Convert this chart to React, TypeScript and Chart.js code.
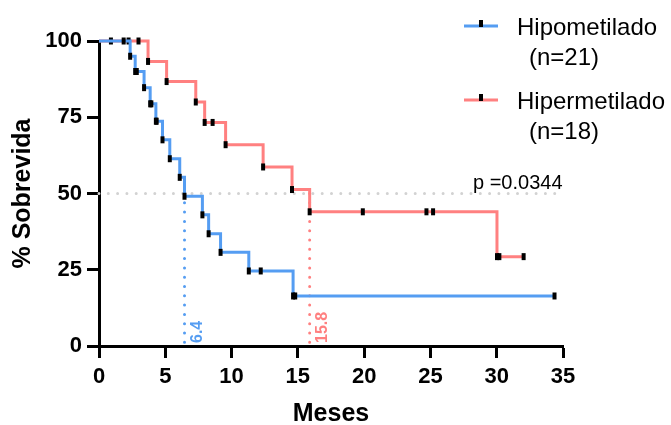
import React, { useEffect, useRef } from 'react';
import { Chart, registerables } from 'chart.js';

Chart.register(...registerables);

// ---------- data ----------
const hipoTimes = [0, 1.86, 2.35, 2.73, 2.85, 3.4, 3.86, 3.95, 4.29, 4.35, 4.79, 5.34, 6.09, 6.45, 7.8, 8.27, 9.17, 11.3, 12.2, 14.64, 14.8, 34.36];
const hipoSurv = [100, 100, 95, 90, 90, 84.7, 79.4, 79.4, 73.7, 73.7, 67.6, 61.4, 55.3, 49.1, 43.0, 36.8, 30.7, 24.6, 24.6, 16.4, 16.4, 16.4];

const hiperTimes = [0, 0.9, 2.23, 2.98, 3.7, 5.1, 7.3, 7.97, 8.57, 9.55, 12.38, 14.56, 15.89, 19.9, 24.7, 25.2, 30.02, 30.2, 32.03];
const hiperSurv = [100, 100, 100, 100, 93.3, 86.7, 80.0, 73.3, 73.3, 66.0, 58.7, 51.3, 44.0, 44.0, 44.0, 44.0, 29.3, 29.3, 29.3];

const seriesNames = ['Hipometilado', 'Hipermetilado'];
const seriesN = ['(n=21)', '(n=18)'];
const medianTimes = [6.45, 15.89];
const medianLabels = ['6.4', '15.8'];
const pValueText = 'p =0.0344';

const xTicks = [0, 5, 10, 15, 20, 25, 30, 35];
const yTicks = [0, 25, 50, 75, 100];

const BLUE = '#559DF2';
const RED = '#FF8080';
const GRAY = '#d2d2d2';
const FONT = '"Liberation Sans", Arial, Helvetica, sans-serif';

const toPts = (ts: number[], ss: number[]) => ts.map((t, i) => ({ x: t, y: ss[i] }));

const overlayPlugin = {
  id: 'overlay',
  afterDatasetsDraw(chart: any) {
    const ctx = chart.ctx;
    const xs = chart.scales.x;
    const ys = chart.scales.y;
    const colors = [BLUE, RED];
    ctx.save();
    // median labels
    ctx.font = `bold 16px ${FONT}`;
    ctx.textBaseline = 'middle';
    ctx.textAlign = 'left';
    medianTimes.forEach((m, i) => {
      const px = xs.getPixelForValue(m);
      const py = ys.getPixelForValue(0);
      ctx.save();
      ctx.translate(px + 13, py - 3);
      ctx.rotate(-Math.PI / 2);
      ctx.fillStyle = colors[i];
      ctx.fillText(medianLabels[i], 0, 0);
      ctx.restore();
    });
    // p value
    ctx.fillStyle = '#000';
    ctx.font = `20px ${FONT}`;
    ctx.textBaseline = 'alphabetic';
    ctx.fillText(pValueText, 473, 189);
    // legend
    const rows = [26, 100];
    rows.forEach((y, i) => {
      ctx.strokeStyle = colors[i];
      ctx.lineWidth = 3;
      ctx.beginPath();
      ctx.moveTo(464, y);
      ctx.lineTo(498, y);
      ctx.stroke();
      ctx.strokeStyle = '#000';
      ctx.lineWidth = 4;
      ctx.beginPath();
      ctx.moveTo(481, y - 6);
      ctx.lineTo(481, y + 1);
      ctx.stroke();
      ctx.fillStyle = '#000';
      ctx.font = `24px ${FONT}`;
      ctx.fillText(seriesNames[i], 517, y + 9);
      ctx.fillText(seriesN[i], 529, y + 39);
    });
    ctx.restore();
  },
};

export default function App() {
  const ref = useRef<HTMLCanvasElement>(null);
  useEffect(() => {
    document.body.style.margin = '0';
    document.body.style.background = '#fff';
    const canvas = ref.current!;
    const kmCommon = {
      borderWidth: 3,
      stepped: 'before' as const,
      fill: false,
      pointStyle: 'line' as const,
      pointRotation: 90,
      pointRadius: (c: any) => (c.dataIndex === 0 ? 0 : 3.5),
      pointBorderWidth: 4,
      pointBorderColor: '#000',
      pointBackgroundColor: '#000',
      pointHoverRadius: 0,
      clip: false as const,
    };
    const dotted = {
      borderWidth: 3,
      borderDash: [0, 9.3],
      borderCapStyle: 'round' as const,
      pointRadius: 0,
      fill: false,
      clip: false as const,
    };
    const chart = new Chart(canvas, {
      type: 'line',
      data: {
        datasets: [
          { ...kmCommon, label: seriesNames[0], data: toPts(hipoTimes, hipoSurv), borderColor: BLUE, order: 0 },
          { ...kmCommon, label: seriesNames[1], data: toPts(hiperTimes, hiperSurv), borderColor: RED, order: 1 },
          { ...dotted, label: 'm50', data: [{ x: 0, y: 50 }, { x: xTicks[xTicks.length - 1], y: 50 }], borderColor: GRAY, order: 4 },
          { ...dotted, label: 'mb', data: [{ x: medianTimes[0], y: 50 }, { x: medianTimes[0], y: 0 }], borderColor: BLUE, order: 3 },
          { ...dotted, label: 'mr', data: [{ x: medianTimes[1], y: 50 }, { x: medianTimes[1], y: 0 }], borderColor: RED, order: 3 },
        ] as any,
      },
      options: {
        responsive: false,
        animation: false,
        events: [],
        layout: { padding: { top: 41, right: 108, left: 0, bottom: 0 } },
        plugins: { legend: { display: false }, tooltip: { enabled: false } },
        scales: {
          x: {
            type: 'linear',
            min: xTicks[0],
            max: xTicks[xTicks.length - 1],
            afterBuildTicks: (s: any) => { s.ticks = xTicks.map((v) => ({ value: v })); },
            afterFit: (s: any) => { s.height = 79; },
            ticks: { color: '#000', font: { family: FONT, size: 22, weight: 'bold' }, padding: 6, maxRotation: 0 },
            border: { color: '#000', width: 3 },
            grid: { drawOnChartArea: false, tickLength: 12, tickWidth: 3, tickColor: '#000' },
            title: { display: true, text: 'Meses', color: '#000', font: { family: FONT, size: 25, weight: 'bold' }, padding: { top: 0, bottom: -4 } },
          },
          y: {
            type: 'linear',
            min: yTicks[0],
            max: yTicks[yTicks.length - 1],
            afterBuildTicks: (s: any) => { s.ticks = yTicks.map((v) => ({ value: v })); },
            afterFit: (s: any) => { s.width = 99; },
            ticks: { color: '#000', font: { family: FONT, size: 22, weight: 'bold' }, padding: 5 },
            border: { color: '#000', width: 3 },
            grid: { drawOnChartArea: false, tickLength: 12, tickWidth: 3, tickColor: '#000' },
            title: { display: true, text: '% Sobrevida', color: '#000', font: { family: FONT, size: 25, weight: 'bold' }, padding: { top: 8, bottom: 0 } },
          },
        },
      } as any,
      plugins: [overlayPlugin],
    });
    return () => chart.destroy();
  }, []);
  return (
    <div style={{ width: 671, height: 425 }}>
      <canvas ref={ref} width={671} height={425} style={{ display: 'block' }} />
    </div>
  );
}
